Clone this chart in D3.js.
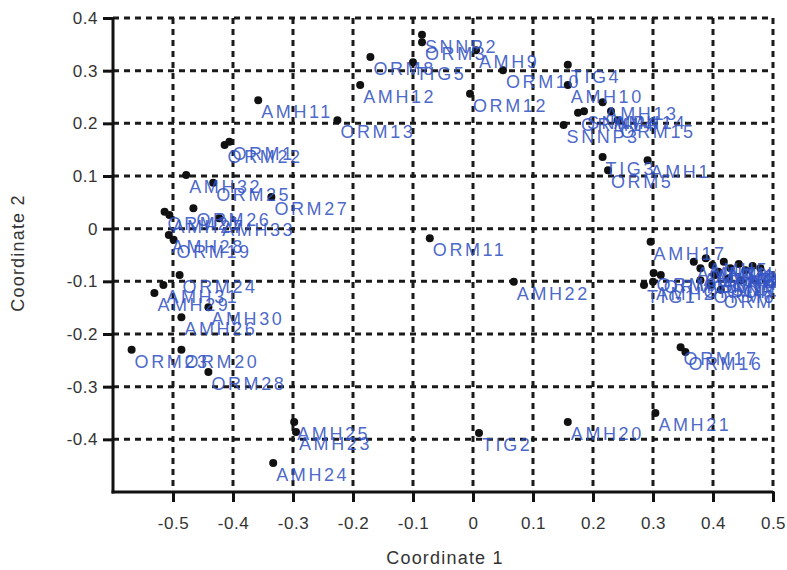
<!DOCTYPE html>
<html><head><meta charset="utf-8">
<script src="https://cdn.jsdelivr.net/npm/d3@7"></script>
<style>body{margin:0;background:#fff}</style></head>
<body>
<svg id="chart" width="787" height="570"></svg>
<script>
const sampleNames = ["SNNP2","ORM3","ORM8","TIG5","AMH12","AMH11","ORM13","ORM1","ORM22","AMH9","ORM10","ORM12","TIG4","AMH10","AMH13","ORM14","SNNP4","AMH14","SNNP3","ORM15","TIG3","AMH1","ORM5",
"AMH32","ORM25","ORM27","ORM26","ORM21","AMH27","AMH33","AMH28","ORM19","ORM24","AMH31","AMH29","AMH30","AMH26","ORM23","ORM20","ORM28",
"AMH25","AMH23","AMH24","TIG2","AMH20","AMH21","ORM11","AMH22","AMH17","ORM9","ORM18","TIG1","AMH2","ORM17","ORM16",
"AMH3","AMH4","AMH5","AMH6","AMH7","AMH8","AMH15","AMH16","AMH18","AMH19","ORM2","ORM4","ORM6","ORM7","SNNP1","SNNP5","ORM29"];
const coord1 = [-0.085,-0.085,-0.171,-0.100,-0.188,-0.358,-0.226,-0.406,-0.414,0.005,0.050,-0.005,0.158,0.158,0.216,0.175,0.185,0.230,0.151,0.241,0.216,0.291,0.225,
-0.478,-0.433,-0.336,-0.466,-0.514,-0.506,-0.423,-0.507,-0.499,-0.489,-0.516,-0.531,-0.441,-0.486,-0.569,-0.486,-0.441,
-0.298,-0.295,-0.333,0.010,0.158,0.304,-0.072,0.068,0.296,0.301,0.313,0.285,0.300,0.346,0.354,
0.368,0.379,0.388,0.399,0.409,0.418,0.429,0.443,0.454,0.466,0.479,0.379,0.396,0.413,0.404,0.426,0.446];
const coord2 = [0.368,0.354,0.326,0.316,0.273,0.244,0.206,0.165,0.159,0.339,0.301,0.256,0.311,0.273,0.240,0.220,0.223,0.223,0.197,0.206,0.136,0.130,0.111,
0.102,0.087,0.060,0.039,0.032,0.026,0.020,-0.012,-0.021,-0.088,-0.107,-0.122,-0.149,-0.168,-0.230,-0.230,-0.272,
-0.367,-0.386,-0.445,-0.388,-0.367,-0.350,-0.018,-0.101,-0.025,-0.084,-0.088,-0.107,-0.101,-0.225,-0.234,
-0.063,-0.075,-0.056,-0.069,-0.082,-0.063,-0.075,-0.067,-0.079,-0.071,-0.075,-0.098,-0.107,-0.116,-0.088,-0.094,-0.098];
const xTickValues = [-0.5,-0.4,-0.3,-0.2,-0.1,0,0.1,0.2,0.3,0.4,0.5];
const xTickLabels = ["-0.5","-0.4","-0.3","-0.2","-0.1","0","0.1","0.2","0.3","0.4","0.5"];
const yTickValues = [-0.4,-0.3,-0.2,-0.1,0,0.1,0.2,0.3,0.4];
const yTickLabels = ["-0.4","-0.3","-0.2","-0.1","0","0.1","0.2","0.3","0.4"];
const xTitle = "Coordinate 1", yTitle = "Coordinate 2";

const svg = d3.select("#chart");
const x = d3.scaleLinear().domain([-0.6, 0.5]).range([113, 773]);
const y = d3.scaleLinear().domain([-0.5, 0.4]).range([492, 18]);
const font = "Arial, 'Liberation Sans', sans-serif";

svg.append("defs").append("clipPath").attr("id","plotclip")
  .append("rect").attr("x",113).attr("y",0).attr("width",663).attr("height",492);

// grid
const grid = svg.append("g").attr("stroke","#1a1a1a").attr("stroke-width",3).attr("stroke-dasharray","6,5");
grid.selectAll("line.v").data(xTickValues).join("line").attr("class","v")
  .attr("x1",d=>x(d)).attr("x2",d=>x(d)).attr("y1",y(0.4)).attr("y2",y(-0.5));
grid.selectAll("line.h").data(yTickValues).join("line").attr("class","h")
  .attr("y1",d=>y(d)).attr("y2",d=>y(d)).attr("x1",x(-0.6)).attr("x2",x(0.5));

// axes
const xAxis = svg.append("g").attr("transform",`translate(0,${y(-0.5)})`)
  .call(d3.axisBottom(x).tickValues(xTickValues).tickFormat((d,i)=>xTickLabels[i]).tickSize(10).tickSizeOuter(0));
const yAxis = svg.append("g").attr("transform",`translate(${x(-0.6)},0)`)
  .call(d3.axisLeft(y).tickValues(yTickValues).tickFormat((d,i)=>yTickLabels[i]).tickSize(10).tickSizeOuter(0));
[xAxis,yAxis].forEach(a=>{
  a.select(".domain").attr("stroke","#111").attr("stroke-width",3);
  a.selectAll(".tick line").attr("stroke","#111").attr("stroke-width",3);
  a.selectAll(".tick text").attr("font-family",font).attr("font-size",17).attr("fill","#333")
   .attr("letter-spacing","0.5px");
});
xAxis.selectAll(".tick text").attr("dy","1.4em");
yAxis.selectAll(".tick text").attr("dx","-2px");
xAxis.select(".domain").attr("d",`M${x(-0.6)-1.5},0H${x(0.5)}`);
yAxis.select(".domain").attr("d",`M0,${y(0.4)}V${y(-0.5)+1.5}`);

svg.append("text").attr("x",445).attr("y",564).attr("text-anchor","middle")
  .attr("font-family",font).attr("font-size",18).attr("letter-spacing","1.2px").attr("fill","#333").text(xTitle);
svg.append("text").attr("transform","translate(24,253) rotate(-90)").attr("text-anchor","middle")
  .attr("font-family",font).attr("font-size",18).attr("letter-spacing","1.2px").attr("fill","#333").text(yTitle);

const pts = sampleNames.map((n,i)=>({n, a:coord1[i], b:coord2[i]}));
svg.append("g").selectAll("circle").data(pts).join("circle")
  .attr("cx",d=>x(d.a)).attr("cy",d=>y(d.b)).attr("r",4).attr("fill","#111");
svg.append("g").attr("clip-path","url(#plotclip)").selectAll("text").data(pts).join("text")
  .attr("x",d=>x(d.a)+3).attr("y",d=>y(d.b)+18)
  .attr("font-family",font).attr("font-size",18).attr("letter-spacing","2.6px")
  .attr("fill","#3555c4").attr("fill-opacity",0.9).text(d=>d.n);
</script>
</body></html>
